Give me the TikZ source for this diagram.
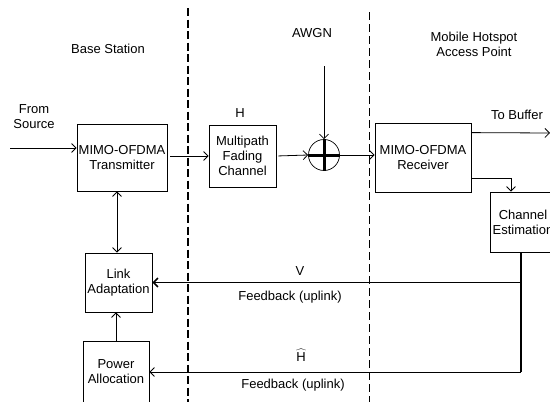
\documentclass[tikz,border=0pt]{standalone}
\usepackage{fontspec}
\setmainfont{Liberation Sans}
\usetikzlibrary{arrows.meta}

\begin{document}
\begin{tikzpicture}[x=1pt,y=-1pt,font=\fontsize{13}{15}\selectfont,
    >={Straight Barb[length=4.5pt,width=9pt]},
    blk/.style={draw,line width=0.8pt,align=center,inner sep=0pt},
    sig/.style={line width=0.8pt,->},
    fb/.style={line width=1.5pt}]
      \useasboundingbox (0,0) rectangle (550,402);
      \clip (0,0) rectangle (550,402);
      \draw[line width=1.8pt,dash pattern=on 8pt off 3.5pt] (188,8) -- (188,402);
      \draw[line width=0.6pt,dash pattern=on 8pt off 4pt] (369,12) -- (369,402);
      \node (bs) at (108,49) {Base Station};
      \node (awgn) at (312,33) {AWGN};
      \node[align=center] (hot) at (474,44) {Mobile Hotspot\\Access Point};
      \node[align=center] (from) at (34,117) {From\\Source};
      \node[blk,minimum width=90pt,minimum height=67pt] (tx) at (122,157.5) {MIMO-OFDMA\\Transmitter};
      \node[blk,minimum width=67pt,minimum height=62pt] (mp) at (242.5,156) {Multipath\\Fading\\Channel};
      \node (hlab) at (240,113) {H};
      \node[draw,circle,line width=0.7pt,minimum size=31pt,inner sep=0pt] (sum) at (324,155) {};
      \draw[line width=3pt] (sum.north) -- (sum.south) (sum.west) -- (sum.east);
      \node[blk,minimum width=96pt,minimum height=69pt] (rx) at (423,157.5) {MIMO-OFDMA\\Receiver};
      \node[blk,minimum width=66pt,minimum height=60pt] (ce) at (523,222) {Channel\\Estimation};
      \node[blk,minimum width=67pt,minimum height=59pt] (la) at (118.5,282.5) {Link\\Adaptation};
      \node[blk,minimum width=66pt,minimum height=62pt] (pa) at (116,372) {Power\\Allocation};
      \node (buf) at (517,115) {To Buffer};
      \node (vlab) at (300,271) {V};
      \node (fb1) at (290,297) {Feedback (uplink)};
      \node (hhat) at (301,355) {$\widehat{\hbox{\,H\,}}$};
      \node (fb2) at (293,385) {Feedback (uplink)};
      \coordinate (src) at (10,148);
      \coordinate (noise) at (324,66);
      \coordinate (out) at (550,133);
      \draw[sig] (src) -- ([yshift=9.5pt]tx.west);
      \draw[sig,shorten <=3pt] (tx.east |- mp.west) -- (mp.west);
      \draw[sig,shorten <=2pt] (mp.east) -- (sum.west);
      \draw[sig] (sum.east) -- (rx.west |- sum.east);
      \draw[sig] (noise) -- (sum.north);
      \draw[sig] ([yshift=-10pt]rx.north east) -- (out);
      \draw[sig] ([yshift=14pt]rx.south east) -| ([xshift=-12pt]ce.north);
      \draw[line width=0.8pt,<->] ([xshift=-5pt]tx.south) -- ([xshift=-1.5pt]la.north);
      \draw[sig] (pa.north) -- (pa.north |- la.south);
      \draw[fb,->] ([xshift=-2pt]ce.south) |- (la.east);
      \draw[fb] ([xshift=-2pt]ce.south |- la.east) -- ([xshift=-2pt]ce.south |- pa.east);
      \draw[sig] ([xshift=-2pt]ce.south |- pa.east) -- (pa.east);
    \end{tikzpicture}
\end{document}
